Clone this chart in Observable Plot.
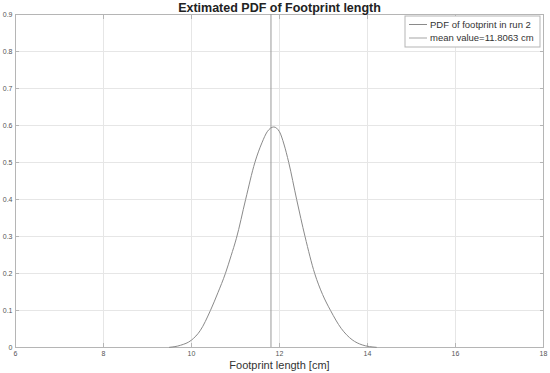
<!DOCTYPE html>
<html>
<head>
<meta charset="utf-8">
<script src="https://cdn.jsdelivr.net/npm/d3@7"></script>
<script src="https://cdn.jsdelivr.net/npm/@observablehq/plot@0.6"></script>
<style>
  body { margin: 0; background: #fff; }
  svg { display: block; }
</style>
</head>
<body>
<div id="chart"></div>
<script>
const titleText = "Extimated PDF of Footprint length";
const xLabel = "Footprint length [cm]";
const legendLabels = ["PDF of footprint in run 2", "mean value=11.8063 cm"];
const meanValue = 11.8063;
const xTicks = [6, 8, 10, 12, 14, 16, 18];
const yTicks = [0, 0.1, 0.2, 0.3, 0.4, 0.5, 0.6, 0.7, 0.8, 0.9];
const lengthCm = [9.5, 9.75, 10.0, 10.2, 10.43, 10.6, 10.77, 10.9, 11.02, 11.23, 11.44, 11.6, 11.72, 11.87, 12.0, 12.1, 12.21, 12.39, 12.58, 12.8, 12.98, 13.16, 13.4, 13.65, 13.88, 14.2];
const density = [0.0005, 0.006, 0.02, 0.046, 0.1, 0.148, 0.2, 0.248, 0.295, 0.4, 0.5, 0.553, 0.583, 0.596, 0.583, 0.55, 0.5, 0.4, 0.3, 0.2, 0.143, 0.1, 0.052, 0.021, 0.007, 0.0005];

const pdf = lengthCm.map((x, i) => ({x, y: density[i]}));
const font = "'Liberation Sans', Arial, Helvetica, sans-serif";

const chart = Plot.plot({
  width: 550,
  height: 373,
  marginLeft: 15,
  marginRight: 7,
  marginTop: 14,
  marginBottom: 26,
  style: {fontFamily: font, background: "#fff"},
  x: {domain: [6, 18], ticks: xTicks},
  y: {domain: [0, 0.9], ticks: yTicks},
  marks: [
    Plot.gridX(xTicks, {stroke: "#e6e6e6", strokeOpacity: 1}),
    Plot.gridY(yTicks, {stroke: "#e6e6e6", strokeOpacity: 1}),
    Plot.frame({stroke: "#b5b5b5"}),
    Plot.axisX(xTicks, {tickSize: -4, tickPadding: 8, fontSize: 7, fill: "#555", stroke: "#b5b5b5", label: null, tickFormat: d => d}),
    Plot.axisX(xTicks, {anchor: "top", tickSize: -4, text: null, stroke: "#b5b5b5", label: null}),
    Plot.axisY(yTicks, {tickSize: -4, tickPadding: 7, fontSize: 7, fill: "#555", stroke: "#b5b5b5", label: null, tickFormat: d => d}),
    Plot.axisY(yTicks, {anchor: "right", tickSize: -4, text: null, stroke: "#b5b5b5", label: null}),
    Plot.ruleX([meanValue], {y1: 0, y2: 0.9, stroke: "#9a9a9a", strokeWidth: 1}),
    Plot.line(pdf, {x: "x", y: "y", stroke: "#8a8a8a", strokeWidth: 1, curve: "monotone-x"}),
    Plot.text([titleText], {frameAnchor: "top", dy: -11, fontSize: 12.5, fontWeight: "bold", fill: "#222"}),
    Plot.text([xLabel], {frameAnchor: "bottom", dy: 21.5, fontSize: 11, fill: "#333"})
  ]
});

document.getElementById("chart").appendChild(chart);

// Legend box (MATLAB style) in top-right corner
const svg = d3.select(chart);
const g = svg.append("g").attr("font-family", font).attr("text-anchor", "start");
const lx = 405, ly = 16, lw = 135, lh = 31;
g.append("rect").attr("x", lx).attr("y", ly).attr("width", lw).attr("height", lh)
  .attr("fill", "#fff").attr("stroke", "#b5b5b5");
const legendStrokes = ["#8a8a8a", "#a5a5a5"];
legendLabels.forEach((t, i) => {
  const cy = ly + 8.5 + i * 13.5;
  g.append("line").attr("x1", lx + 4).attr("x2", lx + 22).attr("y1", cy).attr("y2", cy)
    .attr("stroke", legendStrokes[i]).attr("stroke-width", 1);
  g.append("text").attr("x", lx + 25).attr("y", cy).attr("dy", "0.35em")
    .attr("text-anchor", "start")
    .attr("font-size", 9.5).attr("fill", "#333").text(t);
});
</script>
</body>
</html>
